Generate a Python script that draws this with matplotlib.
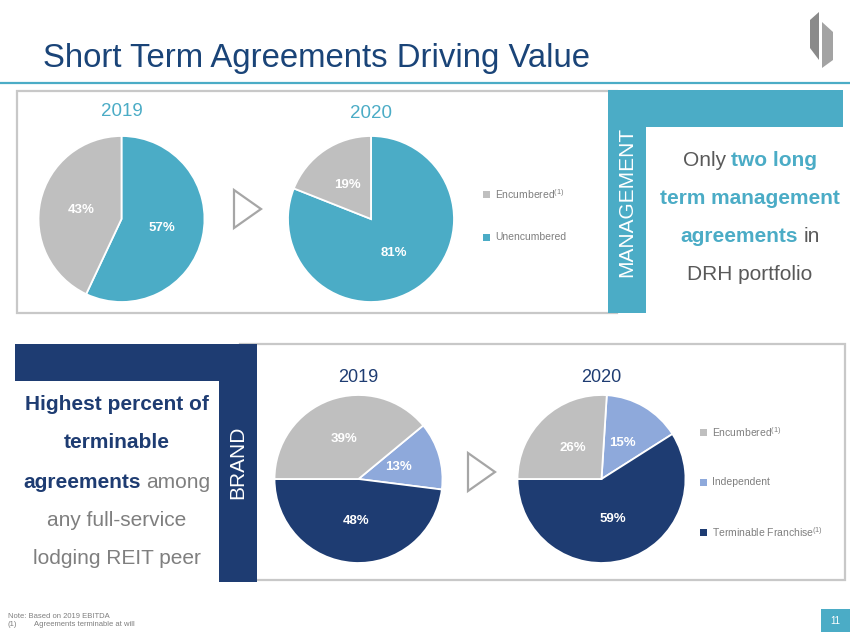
import matplotlib
matplotlib.use("Agg")
import matplotlib.pyplot as plt
from matplotlib.patches import Polygon, Rectangle

plt.rcParams['font.family'] = ['Liberation Sans', 'DejaVu Sans']
plt.rcParams['mathtext.fontset'] = 'custom'
plt.rcParams['mathtext.rm'] = 'Liberation Sans'

# data
mgmt_labels = ['Encumbered', 'Unencumbered']
mgmt_2019 = [43, 57]
mgmt_2020 = [19, 81]
brand_labels = ['Encumbered', 'Independent', 'Terminable Franchise']
brand_2019 = [39, 13, 48]
brand_2020 = [26, 15, 59]
years = ['2019', '2020']
footnoted = ['Encumbered', 'Terminable Franchise']

TEAL = '#4BACC6'
GREY = '#BFBFBF'
LBLUE = '#8EA9DB'
NAVY = '#1E3C72'
TITLE = '#1A4478'
TXT = '#595959'
TXT2 = '#7F7F7F'
mgmt_colors = {'Encumbered': GREY, 'Unencumbered': TEAL}
brand_colors = {'Encumbered': GREY, 'Independent': LBLUE, 'Terminable Franchise': NAVY}

W, H = 850, 638
fig = plt.figure(figsize=(W / 100, H / 100), dpi=100)
bg = fig.add_axes([0, 0, 1, 1])
bg.set_xlim(0, W)
bg.set_ylim(H, 0)
bg.axis('off')

# header
bg.text(43, 67, 'Short Term Agreements Driving Value', fontsize=23.7,
        color=TITLE, va='baseline', ha='left')
bg.plot([0, W], [83, 83], color=TEAL, lw=1.6)
bg.add_patch(Polygon([(810, 20), (819, 12), (819, 60), (810, 48)], closed=True,
                     color='#8A8A8A', lw=0))
bg.add_patch(Polygon([(822, 22), (833, 32), (833, 60), (822, 68)], closed=True,
                     color='#A3A3A3', lw=0))

# panels
bg.add_patch(Rectangle((17, 91), 600, 222, fill=False, ec='#C8C8C8', lw=1.6))
bg.add_patch(Polygon([(608, 90), (843, 90), (843, 127), (646, 127), (646, 313),
                      (608, 313)], closed=True, color=TEAL, lw=0))
bg.text(627, 202, 'MANAGEMENT', rotation=90, color='white', fontsize=15,
        ha='center', va='center')

bg.add_patch(Rectangle((240, 344), 605, 236, fill=False, ec='#C8C8C8', lw=1.6))
bg.add_patch(Polygon([(15, 344), (257, 344), (257, 582), (219, 582), (219, 381),
                      (15, 381)], closed=True, color=NAVY, lw=0))
bg.text(238, 462, 'BRAND', rotation=90, color='white', fontsize=15,
        ha='center', va='center')

renderer = fig.canvas.get_renderer()


def centered_line(x, y, parts, size):
    items = []
    for s, bold, c in parts:
        t = bg.text(0, y, s, fontsize=size, fontweight='bold' if bold else 'normal',
                    color=c, ha='left', va='center')
        items.append(t)
    space = size * 100 / 72 * 0.278
    widths = [t.get_window_extent(renderer).width for t in items]
    total = sum(widths) + space * (len(items) - 1)
    pos = x - total / 2
    for t, w in zip(items, widths):
        t.set_x(pos)
        pos += w + space


# management text
centered_line(750, 160, [('Only', False, TXT), ('two long', True, TEAL)], 15)
centered_line(750, 198, [('term management', True, TEAL)], 15)
centered_line(750, 237, [('agreements', True, TEAL), ('in', False, TXT)], 15)
centered_line(750, 275, [('DRH portfolio', False, TXT)], 15)

# brand text
centered_line(117, 405, [('Highest percent of', True, NAVY)], 15)
centered_line(117, 443, [('terminable', True, NAVY)], 15)
centered_line(117, 482, [('agreements', True, NAVY), ('among', False, TXT2)], 15)
centered_line(117, 520, [('any full-service', False, TXT2)], 15)
centered_line(117, 558, [('lodging REIT peer', False, TXT2)], 15)


def pie(cx, cy, r, values, labels, colors, order, start):
    ax = fig.add_axes([(cx - r) / W, (H - cy - r) / H, 2 * r / W, 2 * r / H])
    ax.pie([values[i] for i in order], colors=[colors[labels[i]] for i in order],
           startangle=start, counterclock=False,
           wedgeprops=dict(edgecolor='white', linewidth=1.3),
           autopct=lambda p: f'{p:.0f}%', pctdistance=0.5,
           textprops=dict(color='white', fontsize=9.5, fontweight='bold'))
    ax.set_xlim(-1, 1)
    ax.set_ylim(-1, 1)
    return ax


# top pies
pie(121.5, 219, 83, mgmt_2019, mgmt_labels, mgmt_colors, [1, 0], 90)
pie(371, 219, 83, mgmt_2020, mgmt_labels, mgmt_colors, [1, 0], 90)
bg.text(121.5, 112, years[0], color=TEAL, fontsize=13.5, ha='center', va='center')
bg.text(371, 113, years[1], color=TEAL, fontsize=13.5, ha='center', va='center')
bg.add_patch(Polygon([(234, 190), (234, 228), (261, 209)], closed=True,
                     fill=False, ec='#A6A6A6', lw=1.6))

# bottom pies: terminable slice ends at 9 o'clock
for cx, vals in [(358.5, brand_2019), (601.5, brand_2020)]:
    start = 3.6 * (vals[1] + vals[2]) - 180
    pie(cx, 479, 84, vals, brand_labels, brand_colors, [1, 2, 0], start)
bg.text(358.5, 377, years[0], color=NAVY, fontsize=13, ha='center', va='center')
bg.text(601.5, 377, years[1], color=NAVY, fontsize=13, ha='center', va='center')
bg.add_patch(Polygon([(468, 453), (468, 491), (495, 472)], closed=True,
                     fill=False, ec='#A6A6A6', lw=1.6))


def legend(x, y0, dy, labels, colors):
    for i, lab in enumerate(labels):
        y = y0 + i * dy
        bg.add_patch(Rectangle((x, y - 3.5), 7, 7, color=colors[lab], lw=0))
        txt = lab + (r'$^{\rm (1)}$' if lab in footnoted else '')
        bg.text(x + 12, y, txt, fontsize=7.5, color=TXT2, ha='left', va='center')


legend(483, 194, 43, mgmt_labels, mgmt_colors)
legend(700, 432, 50, brand_labels, brand_colors)

# footer
bg.text(8, 616, 'Note: Based on 2019 EBITDA', fontsize=5.5, color=TXT2, va='center')
bg.text(8, 625, '(1)', fontsize=5.5, color=TXT2, va='center')
bg.text(34, 625, 'Agreements terminable at will', fontsize=5.5, color=TXT2, va='center')
bg.add_patch(Rectangle((821, 609), 29, 23, color=TEAL, lw=0))
bg.text(835.5, 621, '11', fontsize=7, color='white', ha='center', va='center')

fig.savefig('out.png', dpi=100)
